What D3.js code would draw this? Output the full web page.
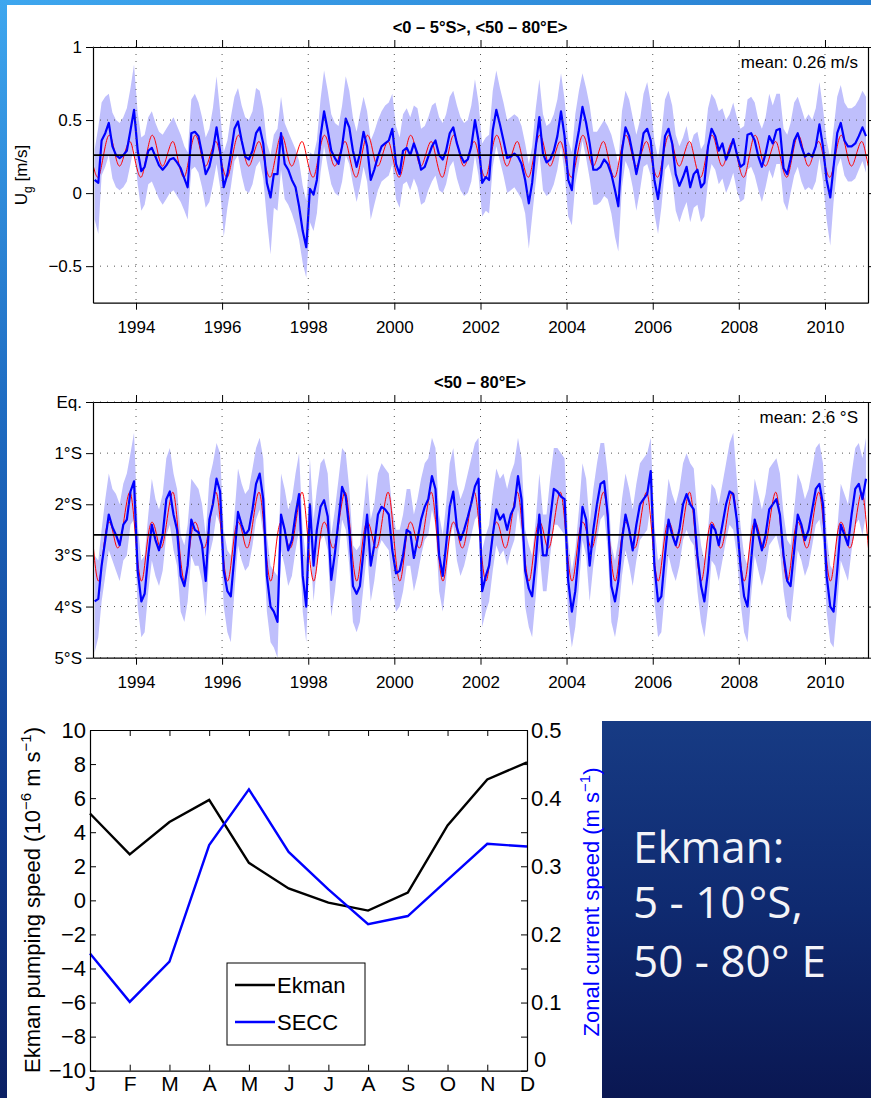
<!DOCTYPE html>
<html>
<head>
<meta charset="utf-8">
<script src="https://cdn.jsdelivr.net/npm/d3@7"></script>
<style>
  body { margin: 0; }
  svg { display: block; font-family: "Liberation Sans", Arial, sans-serif; }
</style>
</head>
<body>
<svg id="chart" width="871" height="1098"></svg>
<script>
// ---------- data ----------
let yearTicks = [1994, 1996, 1998, 2000, 2002, 2004, 2006, 2008, 2010]

// monthly values Jan 1993 .. Dec 2010, geostrophic zonal speed [m/s]
let ugBlue = [
  .09,.07,.36,.41,.48,.32,.26,.24,.26,.29,.43,.57,
  .29,.15,.18,.29,.31,.25,.19,.16,.19,.23,.24,.21,
  .17,.10,.04,.41,.42,.39,.27,.13,.18,.29,.45,.29,
  .04,.13,.27,.44,.49,.36,.25,.23,.29,.41,.45,.34,
  .07,-.03,.13,.13,.41,.20,.16,.09,.04,-.09,-.26,-.37,
  .03,-.01,.09,.39,.56,.43,.29,.24,.20,.32,.51,.45,
  .29,.18,.27,.42,.32,.09,.16,.25,.32,.34,.36,.44,
  .20,.13,.29,.31,.26,.34,.27,.16,.18,.25,.32,.36,
  .26,.23,.29,.41,.45,.34,.26,.21,.23,.32,.50,.36,
  .07,.11,.09,.43,.57,.47,.36,.24,.25,.27,.25,.20,
  .09,-.07,.07,.32,.52,.27,.21,.23,.29,.39,.56,.39,
  .09,.02,.29,.43,.59,.48,.34,.16,.16,.18,.23,.20,
  .13,.02,-.09,.29,.45,.39,.27,.13,.25,.41,.44,.36,
  .09,-.04,.13,.39,.44,.34,.13,.05,.11,.18,.04,.13,
  .16,.04,.07,.32,.44,.39,.29,.34,.23,.29,.37,.27,
  .18,.20,.40,.41,.36,.25,.18,.27,.39,.34,.43,.44,
  .17,.13,.23,.36,.41,.32,.25,.27,.25,.32,.47,.32,
  .09,-.03,.18,.41,.48,.36,.32,.32,.34,.39,.45,.39
]
let ugUpper = [
  .30,.45,.62,.66,.68,.55,.50,.48,.52,.58,.72,.88,
  .55,.38,.40,.52,.56,.48,.42,.40,.44,.48,.52,.46,
  .40,.32,.28,.64,.68,.62,.52,.38,.44,.58,.80,.56,
  .28,.36,.52,.66,.72,.60,.52,.50,.56,.72,.70,.58,
  .34,.26,.40,.44,.66,.48,.42,.36,.30,.22,.05,-.05,
  .28,.26,.36,.64,.84,.70,.54,.48,.46,.60,.80,.70,
  .52,.42,.54,.66,.56,.36,.42,.50,.56,.60,.62,.68,
  .46,.38,.54,.58,.52,.60,.58,.44,.46,.52,.60,.62,
  .52,.48,.54,.66,.70,.60,.52,.48,.50,.60,.78,.62,
  .34,.38,.40,.70,.84,.72,.62,.50,.52,.54,.52,.46,
  .34,.20,.32,.58,.78,.54,.46,.48,.54,.64,.82,.64,
  .36,.28,.54,.70,.82,.72,.60,.42,.42,.46,.50,.46,
  .40,.30,.20,.56,.70,.64,.52,.40,.50,.68,.76,.62,
  .36,.24,.40,.64,.70,.60,.40,.32,.38,.46,.32,.40,
  .42,.30,.34,.58,.68,.64,.56,.58,.50,.54,.62,.52,
  .44,.46,.64,.66,.62,.50,.44,.52,.68,.60,.68,.68,
  .44,.40,.48,.62,.66,.58,.50,.54,.50,.58,.76,.58,
  .36,.24,.44,.66,.74,.62,.58,.58,.60,.64,.70,.66
]
let ugLower = [
  -.18,-.28,.12,.18,.26,.10,.04,.02,.04,.08,.20,.32,
  .06,-.12,-.08,.06,.08,.02,-.04,-.08,-.04,.00,.02,-.02,
  -.06,-.12,-.18,.16,.18,.14,.04,-.10,-.06,.06,.20,.04,
  -.30,-.10,.04,.22,.26,.12,.02,.00,.06,.18,.22,.10,
  -.18,-.42,-.10,-.12,.16,-.04,-.08,-.14,-.22,-.32,-.48,-.58,
  -.20,-.26,-.14,.14,.32,.18,.06,.00,-.02,.08,.26,.20,
  .06,-.06,.04,.18,.08,-.18,-.08,.02,.08,.10,.12,.20,
  -.04,-.10,.06,.08,.02,.10,.04,-.08,-.06,.02,.08,.12,
  .02,.00,.06,.18,.22,.10,.02,-.02,.00,.08,.26,.12,
  -.16,-.12,-.14,.18,.32,.22,.12,.00,.02,.04,.00,-.04,
  -.14,-.38,-.16,.08,.28,.02,-.02,.00,.06,.16,.32,.14,
  -.16,-.22,.06,.20,.36,.24,.10,-.08,-.08,-.06,-.02,-.04,
  -.14,-.30,-.40,.04,.22,.16,.04,-.12,.02,.18,.20,.12,
  -.14,-.28,-.10,.16,.20,.10,-.12,-.20,-.12,-.06,-.20,-.10,
  -.08,-.20,-.16,.08,.20,.16,.06,.10,.00,.06,.14,.02,
  -.06,-.04,.16,.18,.12,.02,-.06,.04,.16,.10,.20,.20,
  -.06,-.12,.00,.12,.18,.08,.02,.04,.02,.08,.24,.08,
  -.18,-.36,-.06,.18,.24,.12,.08,.08,.10,.16,.22,.14
]
// mean seasonal cycle (mid-month, Jan..Dec)
let ugClim = [.15, .11, .19, .32, .395, .35, .24, .185, .24, .32, .35, .26]
let ugMean = 0.26

// latitude of the current core [degrees south], Jan 1993 .. Dec 2010
let latBlue = [
  3.9,3.85,3.2,2.7,2.2,2.45,2.6,2.8,2.4,2.3,1.75,1.55,
  3.3,3.9,3.75,3.0,2.4,2.7,2.9,2.6,1.9,1.75,2.2,2.5,
  3.4,3.6,3.2,2.3,2.5,2.55,2.8,3.5,2.3,2.0,1.5,1.75,
  3.3,3.7,3.8,3.0,2.15,2.4,2.6,2.5,2.1,1.6,1.4,1.9,
  3.4,4.0,4.1,4.3,2.2,2.5,2.9,2.7,2.2,1.8,3.4,4.0,
  2.0,3.2,2.5,2.05,1.92,2.24,3.48,2.96,2.3,1.66,1.85,2.5,
  3.6,3.75,3.6,2.9,2.2,3.2,2.8,2.2,2.05,2.1,2.2,2.9,
  3.35,3.3,3.0,2.5,2.55,3.05,2.7,2.3,2.05,1.9,1.45,1.7,
  3.0,3.4,2.8,2.05,1.75,2.45,2.7,2.5,2.25,1.98,1.65,1.5,
  3.7,3.4,3.2,2.6,2.1,2.3,2.2,2.5,2.2,2.05,1.45,1.9,
  3.3,3.65,3.8,3.1,2.2,3.0,3.0,2.3,1.7,1.75,1.85,1.9,
  3.5,4.1,3.7,2.9,2.05,2.3,3.2,2.5,2.0,1.6,1.55,2.2,
  3.6,3.9,3.5,2.7,2.2,2.5,2.9,2.4,2.0,1.9,1.8,1.35,
  3.2,3.9,3.8,3.0,2.3,2.6,2.8,2.5,2.0,1.8,2.0,2.1,
  3.0,3.6,3.9,3.3,2.4,2.5,2.8,2.4,2.0,1.75,1.8,2.3,
  3.2,3.8,4.0,3.1,2.3,2.6,2.9,2.6,2.1,2.0,1.9,2.2,
  3.0,3.5,3.6,2.9,2.2,2.4,2.7,2.5,2.1,1.7,1.6,2.0,
  3.4,4.0,4.1,3.3,2.4,2.6,2.8,2.2,1.7,1.6,1.9,1.5
]
let latNorth = [
  3.0,3.1,2.5,1.9,1.4,1.7,1.8,2.0,1.6,1.4,1.0,0.6,
  2.4,3.1,3.0,2.2,1.5,1.9,2.1,1.8,1.1,0.9,1.4,1.7,
  2.6,2.8,2.4,1.5,1.6,1.7,2.0,2.6,1.5,1.2,0.8,1.0,
  2.5,2.9,3.0,2.2,1.3,1.6,1.8,1.7,1.3,0.9,0.7,1.1,
  2.6,3.2,3.3,3.4,1.4,1.7,2.1,1.9,1.4,1.0,2.5,3.1,
  1.1,2.3,1.7,1.2,1.1,1.4,2.6,2.1,1.5,0.9,1.0,1.7,
  2.8,2.9,2.8,2.1,1.4,2.3,2.0,1.4,1.2,1.3,1.4,2.1,
  2.5,2.5,2.2,1.7,1.7,2.2,1.9,1.5,1.2,1.1,0.7,0.9,
  2.2,2.6,2.0,1.2,0.9,1.6,1.9,1.7,1.4,1.1,0.8,0.7,
  2.9,2.6,2.4,1.8,1.3,1.5,1.4,1.7,1.4,1.2,0.7,1.1,
  2.5,2.8,3.0,2.3,1.4,2.2,2.2,1.5,0.9,0.9,1.0,1.1,
  2.7,3.3,2.9,2.1,1.2,1.5,2.4,1.7,1.2,0.8,0.8,1.4,
  2.8,3.1,2.7,1.9,1.4,1.7,2.1,1.6,1.2,1.1,1.0,0.7,
  2.4,3.1,3.0,2.2,1.5,1.8,2.0,1.7,1.2,1.0,1.2,1.3,
  2.2,2.8,3.1,2.5,1.6,1.7,2.0,1.6,1.2,0.8,0.6,1.5,
  2.4,3.0,3.2,2.3,1.5,1.8,2.1,1.8,1.3,1.2,1.1,1.4,
  2.2,2.7,2.8,2.1,1.4,1.6,1.9,1.7,1.3,0.9,0.8,1.2,
  2.6,3.2,3.3,2.5,1.6,1.8,2.0,1.4,0.9,0.8,1.1,0.7
]
let latSouth = [
  4.9,4.6,3.9,3.4,2.9,3.1,3.3,3.5,3.1,3.0,2.4,2.3,
  4.0,4.6,4.5,3.7,3.1,3.4,3.6,3.3,2.6,2.4,2.9,3.2,
  4.1,4.3,3.9,3.0,3.2,3.2,3.5,4.2,3.0,2.7,2.2,2.4,
  4.0,4.5,4.7,3.7,2.8,3.1,3.3,3.2,2.8,2.3,2.1,2.6,
  4.1,4.7,4.8,5.0,2.9,3.2,3.6,3.4,2.9,2.5,4.1,4.7,
  2.7,3.9,3.2,2.7,2.6,2.9,4.2,3.7,3.0,2.3,2.5,3.2,
  4.3,4.5,4.3,3.6,2.9,3.9,3.5,2.9,2.7,2.8,2.9,3.6,
  4.1,4.0,3.7,3.2,3.2,3.7,3.4,3.0,2.7,2.6,2.1,2.4,
  3.7,4.1,3.5,2.7,2.4,3.1,3.4,3.2,2.9,2.6,2.3,2.2,
  4.4,4.1,3.9,3.3,2.8,3.0,2.9,3.2,2.9,2.7,2.1,2.6,
  4.0,4.4,4.6,3.8,2.9,3.7,3.7,3.0,2.4,2.4,2.5,2.6,
  4.2,4.8,4.4,3.6,2.7,3.0,3.9,3.2,2.7,2.3,2.2,2.9,
  4.3,4.6,4.2,3.4,2.9,3.2,3.6,3.1,2.7,2.6,2.5,2.0,
  3.9,4.6,4.5,3.7,3.0,3.3,3.5,3.2,2.7,2.5,2.7,2.8,
  3.7,4.3,4.6,4.0,3.1,3.2,3.5,3.1,2.7,2.4,2.5,3.0,
  3.9,4.5,4.7,3.8,3.0,3.3,3.6,3.3,2.8,2.7,2.6,2.9,
  3.7,4.2,4.3,3.6,2.9,3.1,3.4,3.2,2.8,2.4,2.3,2.7,
  4.1,4.7,4.8,4.0,3.1,3.3,3.5,2.9,2.4,2.3,2.6,2.2
]
let latClim = [3.1, 3.5, 3.2, 2.6, 2.35, 2.5, 2.8, 2.8, 2.4, 1.95, 1.78, 2.3]
let latMean = 2.6
let latTickLabels = ['Eq.', '1°S', '2°S', '3°S', '4°S', '5°S']

// monthly climatologies (bottom panel)
let months = ['J', 'F', 'M', 'A', 'M', 'J', 'J', 'A', 'S', 'O', 'N', 'D']
let ekman = [5.1, 2.7, 4.6, 5.9, 2.2, 0.7, -0.13, -0.6, 0.45, 4.4, 7.1, 8.1]
let secc = [0.172, 0.101, 0.16, 0.331, 0.413, 0.321, 0.266, 0.215, 0.227, 0.28, 0.333, 0.329]

// ---------- drawing ----------
let svg = d3.select('#chart')
let defs = svg.append('defs')

let bg = defs.append('linearGradient').attr('id', 'bg')
  .attr('x1', 0).attr('y1', 0).attr('x2', 0.25).attr('y2', 1)
bg.append('stop').attr('offset', 0).attr('stop-color', '#3ea7ef')
bg.append('stop').attr('offset', 0.35).attr('stop-color', '#1e6cc2')
bg.append('stop').attr('offset', 0.7).attr('stop-color', '#103a8e')
bg.append('stop').attr('offset', 1).attr('stop-color', '#0a1a5a')

let dark = defs.append('linearGradient').attr('id', 'dark')
  .attr('x1', 0).attr('y1', 0).attr('x2', 0).attr('y2', 1)
dark.append('stop').attr('offset', 0).attr('stop-color', '#173b84')
dark.append('stop').attr('offset', 0.5).attr('stop-color', '#0f2a70')
dark.append('stop').attr('offset', 1).attr('stop-color', '#0a1752')

svg.append('rect').attr('width', 871).attr('height', 1098).attr('fill', 'url(#bg)')
svg.append('rect').attr('x', 7).attr('y', 5).attr('width', 864).attr('height', 1093).attr('fill', '#fff')
svg.append('rect').attr('x', 602).attr('y', 721).attr('width', 269).attr('height', 377).attr('fill', 'url(#dark)')

let monthDate = (i) => new Date(1993 + Math.floor(i / 12), i % 12, 15)

let xTime = d3.scaleTime()
  .domain([new Date(1993, 0, 1), new Date(2011, 0, 1)])
  .range([93, 868])

let styleAxis = (g, size) => {
  g.attr('font-family', null).attr('font-size', size)
  g.selectAll('.domain').attr('stroke', '#000').attr('stroke-width', 1.2)
  g.selectAll('.tick line').attr('stroke', '#000')
  g.selectAll('.tick text').attr('fill', '#000')
}

let drawSeries = (cfg) => {
  let top = cfg.top, bottom = cfg.bottom
  let left = 93, right = 868
  let y = d3.scaleLinear().domain(cfg.domain).range([bottom, top])

  defs.append('clipPath').attr('id', cfg.id)
    .append('rect').attr('x', left).attr('y', top)
    .attr('width', right - left).attr('height', bottom - top)

  let plot = svg.append('g').attr('clip-path', `url(#${cfg.id})`)

  let area = d3.area()
    .x((d, i) => xTime(monthDate(i)))
    .y0((d, i) => y(cfg.lower[i]))
    .y1((d, i) => y(cfg.upper[i]))
  plot.append('path').datum(cfg.blue).attr('d', area).attr('fill', '#bfbffc')

  // dotted grid
  let grid = svg.append('g').attr('stroke', '#555').attr('stroke-width', 1)
    .attr('stroke-dasharray', '1,6')
  grid.selectAll('.vg').data(yearTicks).enter().append('line')
    .attr('x1', d => xTime(new Date(d, 0, 1))).attr('x2', d => xTime(new Date(d, 0, 1)))
    .attr('y1', top).attr('y2', bottom)
  grid.selectAll('.hg').data(cfg.ticks).enter().append('line')
    .attr('x1', left).attr('x2', right)
    .attr('y1', d => y(d)).attr('y2', d => y(d))

  let clim = d3.range(1992, 2012).flatMap(yr => cfg.clim.map((v, m) => ({ d: new Date(yr, m, 15), v: v })))
  plot.append('path').datum(clim)
    .attr('d', d3.line().x(d => xTime(d.d)).y(d => y(d.v)).curve(d3.curveNatural))
    .attr('fill', 'none').attr('stroke', '#ff0000').attr('stroke-width', 1)

  plot.append('path').datum(cfg.blue)
    .attr('d', d3.line().x((d, i) => xTime(monthDate(i))).y(d => y(d)))
    .attr('fill', 'none').attr('stroke', '#0000ff').attr('stroke-width', 2.2)
    .attr('stroke-linejoin', 'round')

  svg.append('line').attr('x1', left).attr('x2', right)
    .attr('y1', y(cfg.mean)).attr('y2', y(cfg.mean))
    .attr('stroke', '#000').attr('stroke-width', 1.8)

  // axes (ticks pointing out)
  let tickDates = yearTicks.map(d => new Date(d, 0, 1))
  svg.append('g').attr('transform', `translate(0,${bottom})`)
    .call(d3.axisBottom(xTime).tickValues(tickDates).tickFormat(d3.timeFormat('%Y'))
      .tickSize(7).tickSizeOuter(0).tickPadding(11))
    .call(g => styleAxis(g, 17))
  svg.append('g').attr('transform', `translate(0,${top})`)
    .call(d3.axisTop(xTime).tickValues(tickDates).tickFormat('').tickSize(7).tickSizeOuter(0))
    .call(g => styleAxis(g, 17))
  svg.append('g').attr('transform', `translate(${left},0)`)
    .call(d3.axisLeft(y).tickValues(cfg.ticks).tickFormat(cfg.fmt).tickSize(7).tickSizeOuter(0).tickPadding(4))
    .call(g => styleAxis(g, 17))
  svg.append('g').attr('transform', `translate(${right},0)`)
    .call(d3.axisRight(y).tickValues(cfg.ticks).tickFormat('').tickSize(7).tickSizeOuter(0))
    .call(g => styleAxis(g, 17))

  svg.append('text').attr('x', 480).attr('y', top - 14).attr('text-anchor', 'middle')
    .attr('font-weight', 'bold').attr('font-size', 16.5).text(cfg.title)
  svg.append('text').attr('x', 858).attr('y', top + 21).attr('text-anchor', 'end')
    .attr('font-size', 17).text(cfg.meanText)
  return y
}

drawSeries({
  id: 'clipU', top: 47, bottom: 302.7, domain: [-0.75, 1],
  blue: ugBlue, upper: ugUpper, lower: ugLower, clim: ugClim, mean: ugMean,
  ticks: [-0.5, 0, 0.5, 1], fmt: d3.format('~g'),
  title: '<0 – 5°S>, <50 – 80°E>', meanText: 'mean: 0.26 m/s'
})

drawSeries({
  id: 'clipL', top: 402, bottom: 657.7, domain: [5, 0],
  blue: latBlue, upper: latNorth, lower: latSouth, clim: latClim, mean: latMean,
  ticks: [0, 1, 2, 3, 4, 5], fmt: d => latTickLabels[d],
  title: '<50 – 80°E>', meanText: 'mean: 2.6 °S'
})

// y label of the top panel
let ul = svg.append('text').attr('transform', 'translate(27,175) rotate(-90)')
  .attr('text-anchor', 'middle').attr('font-size', 17)
ul.append('tspan').text('U')
ul.append('tspan').attr('font-size', 12).attr('dy', 5).text('g')
ul.append('tspan').attr('dy', -5).text(' [m/s]')

// ---------- bottom panel: monthly climatology ----------
let bx = d3.scaleLinear().domain([1, 12]).range([90, 527])
let byL = d3.scaleLinear().domain([-10, 10]).range([1070.7, 730])
let byR = d3.scaleLinear().domain([0, 0.5]).range([1070.7, 730])

svg.append('path').datum(ekman)
  .attr('d', d3.line().x((d, i) => bx(i + 1)).y(d => byL(d)))
  .attr('fill', 'none').attr('stroke', '#000').attr('stroke-width', 2.4)
svg.append('path').datum(secc)
  .attr('d', d3.line().x((d, i) => bx(i + 1)).y(d => byR(d)))
  .attr('fill', 'none').attr('stroke', '#0000ff').attr('stroke-width', 2.4)

svg.append('g').attr('transform', 'translate(0,1070.7)')
  .call(d3.axisBottom(bx).tickValues(d3.range(1, 13)).tickFormat((d, i) => months[i])
    .tickSize(-6).tickSizeOuter(0).tickPadding(5))
  .call(g => styleAxis(g, 21))
svg.append('g').attr('transform', 'translate(0,730)')
  .call(d3.axisTop(bx).tickValues(d3.range(1, 13)).tickFormat('').tickSize(-6).tickSizeOuter(0))
  .call(g => styleAxis(g, 22))
svg.append('g').attr('transform', 'translate(90,0)')
  .call(d3.axisLeft(byL).tickValues(d3.range(-10, 11, 2)).tickFormat(d3.format('')).tickSize(-6)
    .tickSizeOuter(0).tickPadding(4))
  .call(g => styleAxis(g, 22))
svg.append('g').attr('transform', 'translate(527,0)')
  .call(d3.axisRight(byR).tickValues(d3.range(0, 0.51, 0.05))
    .tickFormat(d => (Math.round(d * 100) % 10 === 0 ? d3.format('~g')(d) : ''))
    .tickSize(-6).tickSizeOuter(0).tickPadding(4))
  .call(g => styleAxis(g, 22))
  .call(g => g.selectAll('.tick text').filter(d => d === 0).attr('dy', '-0.2em').attr('x', 7))

let ll = svg.append('text').attr('transform', 'translate(40,900) rotate(-90)')
  .attr('text-anchor', 'middle').attr('font-size', 22)
ll.append('tspan').text('Ekman pumping speed (10')
ll.append('tspan').attr('font-size', 15).attr('dy', -9).text('−6')
ll.append('tspan').attr('dy', 9).text(' m s')
ll.append('tspan').attr('font-size', 15).attr('dy', -9).text('−1')
ll.append('tspan').attr('dy', 9).text(')')

let rl = svg.append('text').attr('transform', 'translate(599,902) rotate(-90)')
  .attr('text-anchor', 'middle').attr('font-size', 22).attr('fill', '#0000ff')
rl.append('tspan').text('Zonal current speed (m s')
rl.append('tspan').attr('font-size', 15).attr('dy', -9).text('−1')
rl.append('tspan').attr('dy', 9).text(')')

// legend
let legend = svg.append('g')
legend.append('rect').attr('x', 227).attr('y', 963).attr('width', 138).attr('height', 82)
  .attr('fill', '#fff').attr('stroke', '#000').attr('stroke-width', 1)
let legendItems = [{ name: 'Ekman', color: '#000' }, { name: 'SECC', color: '#0000ff' }]
legend.selectAll('.li').data(legendItems).enter().append('line')
  .attr('x1', 235).attr('x2', 275)
  .attr('y1', (d, i) => 985 + i * 37).attr('y2', (d, i) => 985 + i * 37)
  .attr('stroke', d => d.color).attr('stroke-width', 2.4)
legend.selectAll('.lt').data(legendItems).enter().append('text')
  .attr('x', 277).attr('y', (d, i) => 993 + i * 37).attr('font-size', 22)
  .text(d => d.name)

// text on the dark panel
let note = svg.append('g').attr('fill', '#f4f4f8')
  .attr('font-family', '"Open Sans", sans-serif').attr('font-size', 44)
note.append('text').attr('x', 633).attr('y', 863).text('Ekman:')
let n2 = note.append('text').attr('x', 633).attr('y', 918)
n2.append('tspan').text('5 - 10')
n2.append('tspan').attr('dx', 3).text('°S,')
let n3 = note.append('text').attr('x', 633).attr('y', 977)
n3.append('tspan').text('50 - 80°')
n3.append('tspan').attr('dx', 12).text('E')
</script>
</body>
</html>
